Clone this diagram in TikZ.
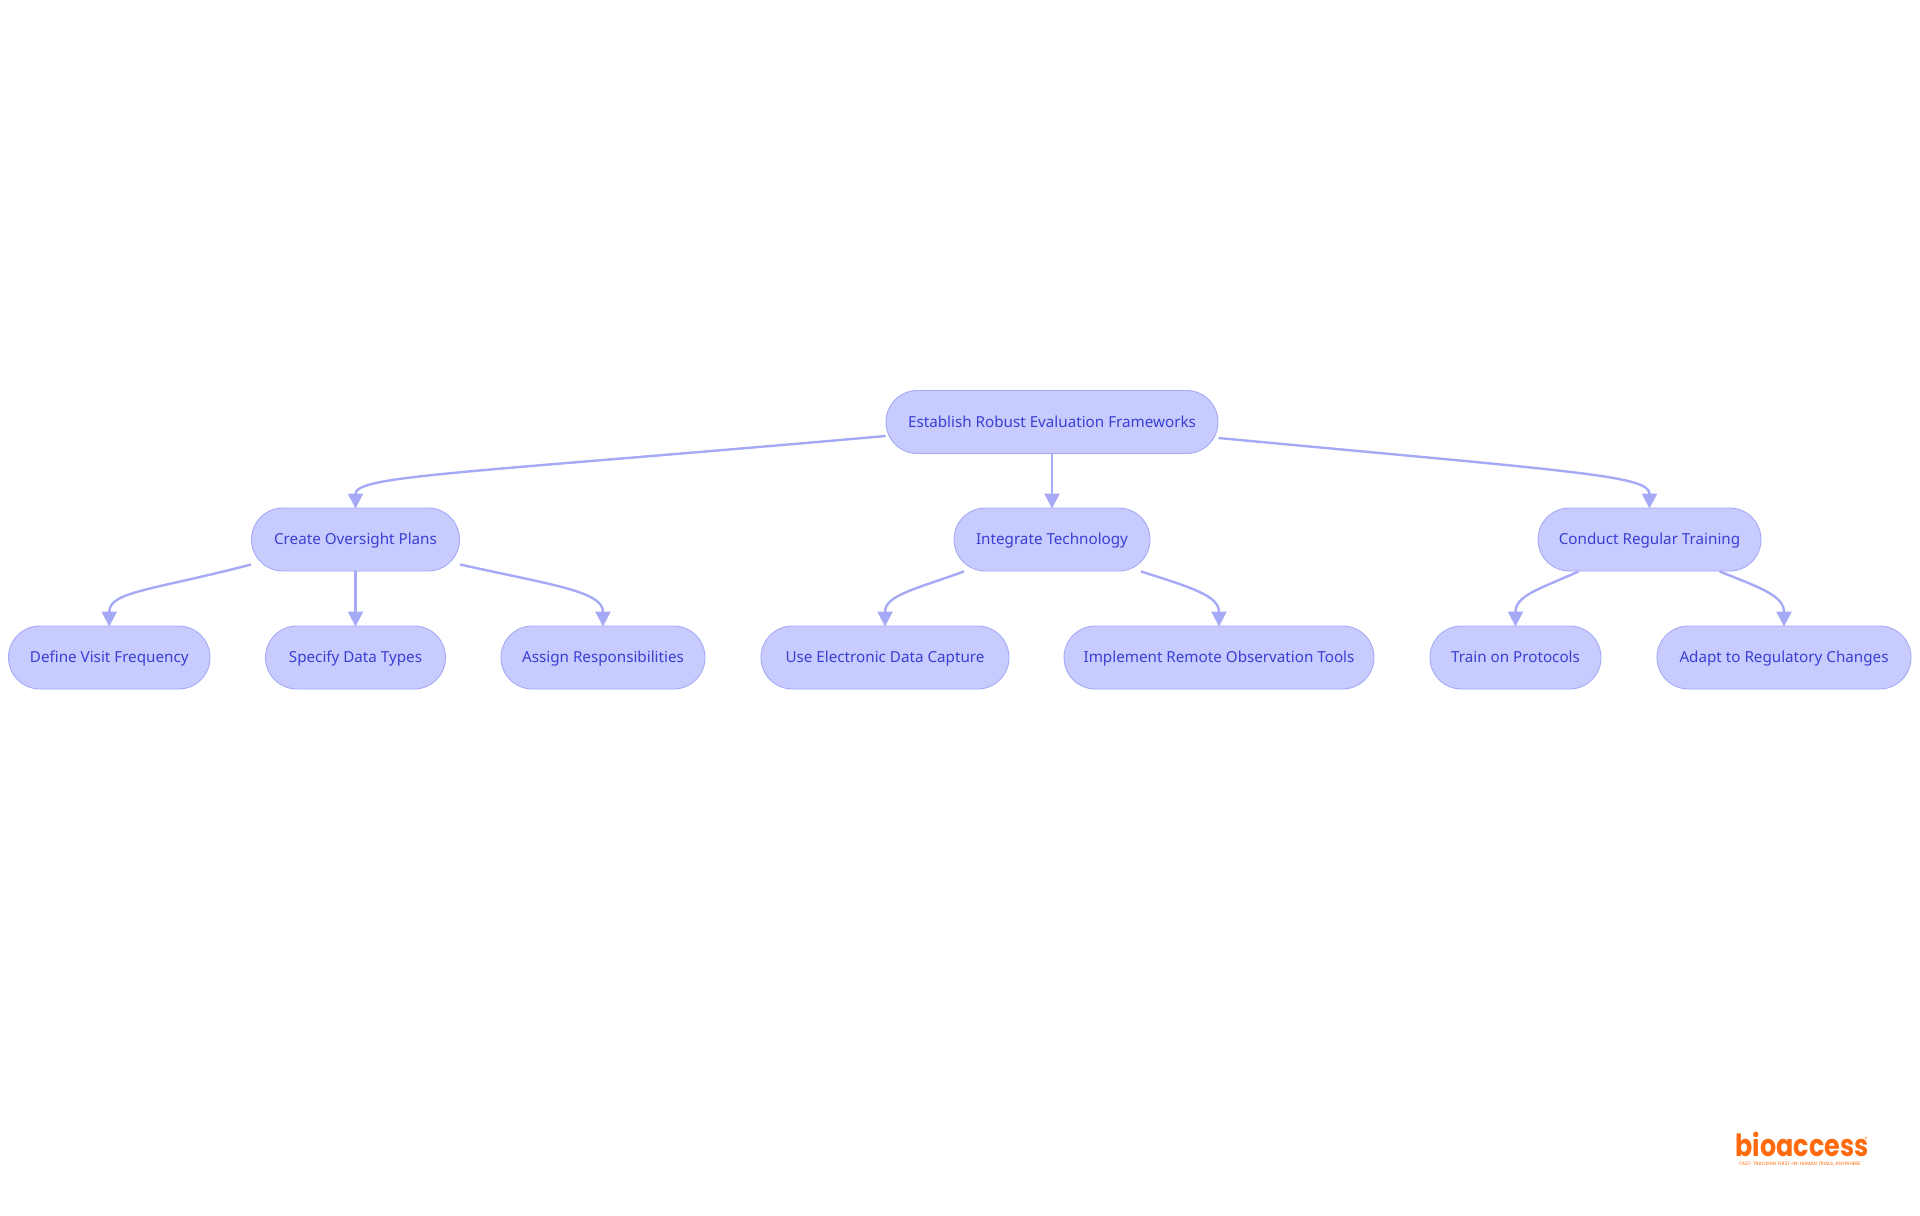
\documentclass[tikz,border=0pt]{standalone}
\usepackage{graphicx}
\usepackage{fontspec}
\setmainfont{Noto Sans}
\newfontfamily\logofont{Poppins}
\usetikzlibrary{arrows.meta}
\definecolor{boxfill}{HTML}{C8CBFD}
\definecolor{boxline}{HTML}{A6A9F6}
\definecolor{boxtext}{HTML}{3A3FD2}
\definecolor{logoorange}{HTML}{FF6A0D}
\tikzstyle{cn}=[shape=rectangle,draw=boxline,fill=boxfill,text=boxtext,line width=0.45pt,rounded corners=15.7pt,minimum height=31.5pt,inner sep=0pt,text height=7pt,text depth=1.8pt,font=\fontsize{7.6}{9}\selectfont]
\tikzstyle{link}=[-{Triangle[length=7.5pt,width=7.5pt]},draw=boxline,line width=1.2pt,shorten >=-0.5pt]
\tikzstyle{logo}=[text=logoorange,inner sep=0pt]

\begin{document}
\begin{tikzpicture}[x=0.5pt,y=-0.5pt]
            \useasboundingbox (0,0) rectangle (1920,1215);
            \node[cn,minimum width=166pt] (root) at (1052,422) {Establish Robust Evaluation Frameworks}
            ;
            \node[cn,minimum width=104pt] (plans) at (355.5,539.5) {Create Oversight Plans}
            ;
            \node[cn,minimum width=98pt] (tech) at (1052,539.5) {Integrate Technology}
            ;
            \node[cn,minimum width=111.5pt] (train) at (1649.5,539.5) {Conduct Regular Training}
            ;
            \node[cn,minimum width=100.75pt] (visit) at (109.25,657.5) {Define Visit Frequency}
            ;
            \node[cn,minimum width=90pt] (types) at (355.5,657.5) {Specify Data Types}
            ;
            \node[cn,minimum width=102pt] (roles) at (603,657.5) {Assign Responsibilities}
            ;
            \node[cn,minimum width=124pt] (capture) at (885,657.5) {Use Electronic Data Capture}
            ;
            \node[cn,minimum width=155pt] (remote) at (1219,657.5) {Implement Remote Observation Tools}
            ;
            \node[cn,minimum width=85.5pt] (protocols) at (1515.5,657.5) {Train on Protocols}
            ;
            \node[cn,minimum width=127pt] (changes) at (1784,657.5) {Adapt to Regulatory Changes}
            ;
            % level one
            \draw[link] ([yshift=-7pt]root.west) .. controls +(-430,38) and +(0,-32) .. (plans.north);
            \draw[link] (root.south) -- (tech.north);
            \draw[link] ([yshift=-8pt]root.east) .. controls +(362,34) and +(0,-32) .. (train.north);
            % level two
            \draw[link] ([yshift=-12.5pt]plans.west) .. controls +(-100,26) and +(0,-34) .. (visit.north);
            \draw[link] (plans.south) -- (types.north);
            \draw[link] ([yshift=-12.5pt]plans.east) .. controls +(95,21) and +(0,-34) .. (roles.north);
            \draw[link] ([xshift=-44pt]tech.south) .. controls +(-50,18) and +(0,-30) .. (capture.north);
            \draw[link] ([xshift=44.5pt]tech.south) .. controls +(50,16) and +(0,-30) .. (remote.north);
            \draw[link] ([xshift=-35.5pt]train.south) .. controls +(-40,18) and +(0,-30) .. (protocols.north);
            \draw[link] ([xshift=35pt]train.south) .. controls +(40,16) and +(0,-30) .. (changes.north);
            % logo
            \node[logo,font=\logofont\bfseries\fontsize{12.7}{13}\selectfont] (brand) at (1802,1144) {\scalebox{1}[1.2]{bioaccess}};
            \node[logo,font=\logofont\fontsize{3}{3}\selectfont] (mark) at (1866,1139) {®};
            \node[logo,font=\logofont\fontsize{2.4}{3}\selectfont] (slogan) at (1800,1164) {FAST-TRACKING FIRST-IN-HUMAN TRIALS, ANYWHERE};
\end{tikzpicture}
\end{document}
